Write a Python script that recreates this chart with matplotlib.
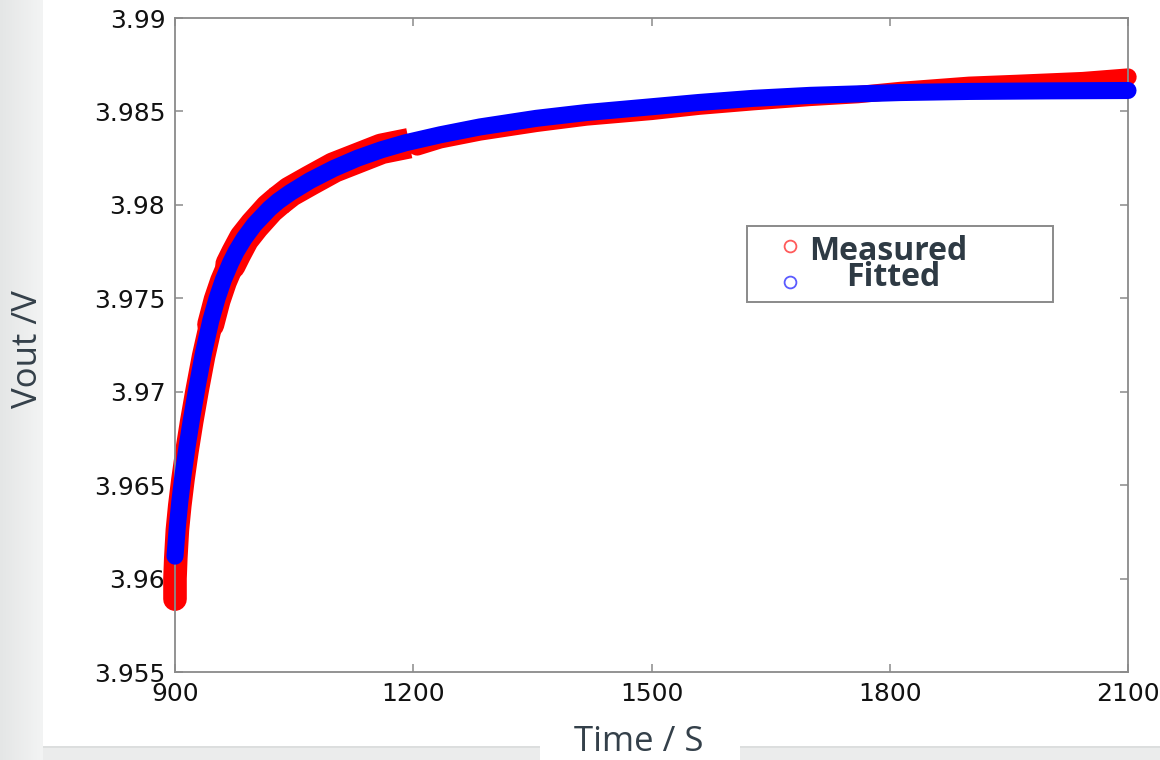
import matplotlib
matplotlib.use("Agg")
import matplotlib.pyplot as plt
import numpy as np
from matplotlib.patches import Rectangle

# ---------------- data ----------------
fitted_time = [900, 903, 906, 910, 915, 921, 928, 936, 945, 953, 961, 970, 977,
               987, 1000, 1019, 1030, 1045, 1070, 1100, 1130, 1160, 1190, 1234,
               1284, 1355, 1418, 1500, 1560, 1628, 1700, 1813, 1900, 2000, 2100]
fitted_volt = [3.9612, 3.9628, 3.9641, 3.9655, 3.9670, 3.9686, 3.9703, 3.9721,
               3.9738, 3.9750, 3.9760, 3.9769, 3.9775, 3.97820, 3.97895, 3.97980,
               3.98020, 3.98065, 3.98130, 3.98195, 3.98250, 3.98295, 3.98332,
               3.98375, 3.98417, 3.98463, 3.98494, 3.98525, 3.98548, 3.98570,
               3.98586, 3.98601, 3.98607, 3.98610, 3.98612]

measured_time = [900, 900, 901, 903, 906, 910, 915, 921, 928, 936, 945, 953, 961,
                 970, 977, 987, 1000, 1019, 1030, 1045, 1070, 1100, 1130, 1160,
                 1195, 1205, 1234, 1284, 1355, 1418, 1500, 1560, 1628, 1700, 1760,
                 1813, 1900, 1960, 2043, 2100]
measured_volt = [3.9589, 3.9600, 3.9611, 3.9626, 3.9639, 3.9653, 3.9668, 3.9684,
                 3.9701, 3.9719, 3.9736, 3.9749, 3.9759, 3.9768, 3.9774, 3.9782,
                 3.9789, 3.9798, 3.9802, 3.9807, 3.9813, 3.9820, 3.9825, 3.9830,
                 3.9833, 3.9831, 3.98348, 3.9839, 3.98436, 3.9847, 3.9850, 3.98528,
                 3.98552, 3.98575, 3.9859, 3.98612, 3.9864, 3.9865, 3.98665, 3.98684]

x_ticks = [900, 1200, 1500, 1800, 2100]
x_tick_labels = ["900", "1200", "1500", "1800", "2100"]
y_ticks = [3.955, 3.96, 3.965, 3.97, 3.975, 3.98, 3.985, 3.99]
y_tick_labels = ["3.955", "3.96", "3.965", "3.97", "3.975", "3.98", "3.985", "3.99"]

series_labels = ["Measured", "Fitted"]
x_label = "Time / S"
y_label = "Vout /V"

# ---------------- figure ----------------
W, H = 1160, 760
fig = plt.figure(figsize=(W / 100, H / 100), dpi=100)
fig.patch.set_facecolor("#ebecec")

def fx(px):
    return px / W

def fy(py):
    return 1 - py / H

# background: left gradient strip, white sheet, grey bottom strip
bg = fig.add_axes([0, 0, 1, 1], zorder=-10)
bg.set_xlim(0, W)
bg.set_ylim(H, 0)
bg.axis("off")
grad = np.linspace(0, 1, 64)[None, :]
bg.imshow(grad, extent=(0, 43, H, 0), aspect="auto",
          cmap=matplotlib.colors.LinearSegmentedColormap.from_list(
              "g", ["#e4e6e6", "#f3f4f4"]))
bg.add_patch(Rectangle((43, 0), W - 43, 746, facecolor="white", edgecolor="none"))
bg.add_patch(Rectangle((43, 746), W - 43, 1.5, facecolor="#dcdede", edgecolor="none"))
bg.add_patch(Rectangle((540, 740), 200, 20, facecolor="white", edgecolor="none"))

ax = fig.add_axes([fx(175), fy(672), fx(1128) - fx(175), fy(18) - fy(672)])
ax.set_facecolor("white")

mt = np.array(measured_time)
mv = np.array(measured_volt)
i1 = 11   # end of the thin start of the measured band
im = 18   # middle of the noisy part
i2 = 25   # end of the noisy part (about 1200 s)

red = "#ff0000"
blue = "#0000ff"
ax.plot(mt[:i1 + 1], mv[:i1 + 1], color=red, lw=17, zorder=2, clip_on=False,
        solid_capstyle="round", solid_joinstyle="round")
ax.plot(mt[i1 - 1:im + 1], mv[i1 - 1:im + 1], color=red, lw=19.5, zorder=2,
        clip_on=False, solid_capstyle="round", solid_joinstyle="round")
ax.plot(mt[i1 + 2:im + 1], mv[i1 + 2:im + 1], color=red, lw=22, zorder=2,
        clip_on=False, solid_capstyle="round", solid_joinstyle="round")
ax.plot(mt[im:i2], mv[im:i2], color=red, lw=22, zorder=2, clip_on=False,
        solid_capstyle="butt", solid_joinstyle="round")
ax.plot(mt[i2 - 1:], mv[i2 - 1:], color=red, lw=12.5, zorder=2, clip_on=False,
        solid_capstyle="round", solid_joinstyle="round")
ax.plot(fitted_time, fitted_volt, color=blue, lw=12.3, zorder=3, clip_on=False,
        solid_capstyle="round", solid_joinstyle="round")

ax.set_xlim(900, 2100)
ax.set_ylim(3.955, 3.99)
ax.set_xticks(x_ticks)
ax.set_xticklabels(x_tick_labels)
ax.set_yticks(y_ticks)
ax.set_yticklabels(y_tick_labels)

for s in ax.spines.values():
    s.set_color("#8a8a8a")
    s.set_linewidth(1.3)
ax.tick_params(direction="in", length=6, width=1.1, color="#8a8a8a",
               top=True, right=True, labelsize=18, labelcolor="#111111")
ax.tick_params(axis="y", pad=7)
ax.tick_params(axis="x", pad=7)

# axis labels
fig.text(fx(639), fy(742), x_label, ha="center", va="center",
         fontsize=25, family="Open Sans", color="#34404a")
fig.text(fx(28), fy(349), y_label, ha="center", va="center", rotation=90,
         fontsize=25, family="Open Sans", color="#34404a")

# legend box
lg = fig.add_axes([0, 0, 1, 1], zorder=10)
lg.set_xlim(0, W)
lg.set_ylim(H, 0)
lg.axis("off")
lg.patch.set_alpha(0)
lg.add_patch(Rectangle((747, 226), 306, 76, facecolor="white",
                       edgecolor="#8a8a8a", lw=1.4))
lg.plot([790], [246], marker="o", ms=8.5, mfc="none", mec="#ff5a5a", mew=1.3)
lg.plot([790], [282], marker="o", ms=8.5, mfc="none", mec="#5a5aff", mew=1.3)
lg.text(809, 260, series_labels[0], ha="left", va="baseline", fontsize=23,
        family="Open Sans", fontweight="bold", color="#2e3a44")
lg.text(846, 286, series_labels[1], ha="left", va="baseline", fontsize=23,
        family="Open Sans", fontweight="bold", color="#2e3a44")

fig.savefig("out.png", dpi=100, facecolor=fig.get_facecolor())
